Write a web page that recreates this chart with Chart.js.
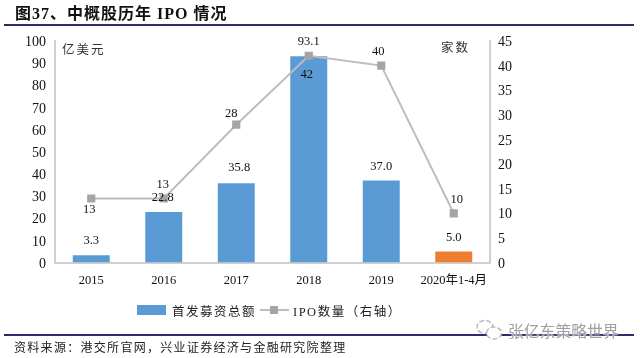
<!DOCTYPE html>
<html>
<head>
<meta charset="utf-8">
<script src="https://cdn.jsdelivr.net/npm/chart.js@4/dist/chart.umd.min.js"></script>
<style>
  html, body { margin: 0; padding: 0; background: #fff; }
  #wrap { position: relative; width: 640px; height: 358px; overflow: hidden;
          font-family: "Liberation Serif", "Noto Sans CJK SC", serif; color: #111; }
  #graph { position: absolute; left: 0; top: 0; }
  #wrap div { position: absolute; white-space: nowrap; }
  .rule { left: 4px; width: 630px; height: 2px; background: #2f2a68; }
  .unit { font-size: 12.5px; letter-spacing: 2px; color: #333; }
  .swatch { background: #5b9bd5; }
  .legend { font-size: 12.5px; letter-spacing: 1.5px; color: #222; }
</style>
</head>
<body>
<div id="wrap">
  <canvas id="graph" width="640" height="358"></canvas>
  <div style="left:15px;top:3px;font-size:16px;font-weight:bold;line-height:22px;letter-spacing:1px">图37、中概股历年 IPO 情况</div>
  <div class="rule" style="top:24px"></div>
  <div class="unit" style="left:62px;top:39px">亿美元</div>
  <div class="unit" style="left:441px;top:37px">家数</div>
  <div class="swatch" style="left:137px;top:305px;width:29px;height:10px"></div>
  <div class="legend" style="left:172px;top:301px">首发募资总额</div>
  <div style="left:260px;top:309px;width:29px;height:2px;background:#bdbdbd"></div>
  <div style="left:270px;top:306px;width:8px;height:8px;background:#a5a5a5"></div>
  <div class="legend" style="left:293px;top:301px">IPO数量（右轴）</div>
  <div class="rule" style="top:334px"></div>
  <div style="left:14px;top:338px;font-size:12px;letter-spacing:1.3px;color:#222">资料来源：港交所官网，兴业证券经济与金融研究院整理</div>
  <svg style="position:absolute;left:474px;top:317px" width="32" height="26">
    <ellipse cx="11" cy="10" rx="8" ry="6.5" fill="#fff" stroke="#bbb" stroke-width="1.5" stroke-dasharray="5 2"/>
    <ellipse cx="20" cy="16" rx="7.5" ry="6" fill="#fff" stroke="#bbb" stroke-width="1.5" stroke-dasharray="5 2"/>
  </svg>
  <div style="left:508px;top:319px;font-size:15.8px;color:#a0a0a0;text-shadow:0 0 2px #fff,0 0 2px #fff;font-family:'Noto Sans CJK SC'">张亿东策略世界</div>
</div>
<script>
var categories = ['2015', '2016', '2017', '2018', '2019', '2020年1-4月'];
var raised = [3.3, 22.8, 35.8, 93.1, 37.0, 5.0];
var ipoCount = [13, 13, 28, 42, 40, 10];
var barColors = ['#5b9bd5', '#5b9bd5', '#5b9bd5', '#5b9bd5', '#5b9bd5', '#ed7d31'];
var leftTicks = [0, 10, 20, 30, 40, 50, 60, 70, 80, 90, 100];
var rightTicks = [0, 5, 10, 15, 20, 25, 30, 35, 40, 45];

var serif = '"Liberation Serif", "Noto Sans CJK SC", serif';

// ラベルのずれ（マーカーからのピクセル数）
var barLabelDx = [0, -1, 3, 0, 0, 0];
var barLabelDy = [-14, -14, -15, -15, -14, -14];
var lineLabelDx = [-2, -1, -5, -2, -3, 3];
var lineLabelDy = [11, -14, -11, 19, -14, -14];

// 数値ラベル（データラベルのプラグインは使わない）
var valueLabels = {
  id: 'valueLabels',
  afterDatasetsDraw: function(chart) {
    var ctx = chart.ctx;
    ctx.save();
    ctx.font = '12.5px ' + serif;
    ctx.fillStyle = '#111';
    ctx.textAlign = 'center';
    ctx.textBaseline = 'middle';
    chart.getDatasetMeta(0).data.forEach(function(el, i) {
      ctx.fillText(raised[i].toFixed(1), el.x + barLabelDx[i], el.y + barLabelDy[i]);
    });
    chart.getDatasetMeta(1).data.forEach(function(el, i) {
      ctx.fillText(ipoCount[i], el.x + lineLabelDx[i], el.y + lineLabelDy[i]);
    });
    ctx.restore();
  }
};

function fixedWidth(w) {
  return function(scale) { scale.width = w; };
}

var config = {
  type: 'bar',
  data: {
    labels: categories,
    datasets: [
      {
        type: 'bar',
        label: '首发募资总额',
        data: raised,
        yAxisID: 'y',
        backgroundColor: barColors,
        categoryPercentage: 1,
        barPercentage: 0.51,
        order: 2
      },
      {
        type: 'line',
        label: 'IPO数量（右轴）',
        data: ipoCount,
        yAxisID: 'y1',
        borderColor: '#bdbdbd',
        borderWidth: 2,
        pointStyle: 'rect',
        pointRadius: 5.8,
        pointBackgroundColor: '#a5a5a5',
        pointBorderWidth: 0,
        tension: 0,
        order: 1
      }
    ]
  },
  options: {
    responsive: false,
    animation: false,
    layout: { padding: { top: 41, bottom: 65.5, left: 0, right: 0 } },
    plugins: { legend: { display: false }, tooltip: { enabled: false } },
    scales: {
      x: {
        grid: { display: false, drawTicks: false },
        border: { color: '#d0d0d0', width: 2 },
        ticks: { color: '#111', font: { size: 12.5, family: serif }, padding: 11, maxRotation: 0, autoSkip: false },
        afterFit: function(scale) { scale.height = 30; }
      },
      y: {
        position: 'left',
        min: 0,
        max: 100,
        afterBuildTicks: function(scale) { scale.ticks = leftTicks.map(function(v) { return { value: v }; }); },
        grid: { display: false, drawTicks: false },
        border: { color: '#d0d0d0', width: 2 },
        ticks: { color: '#111', font: { size: 14, family: serif }, padding: 9, labelOffset: 1.5 },
        afterFit: fixedWidth(55)
      },
      y1: {
        position: 'right',
        min: 0,
        max: 45,
        afterBuildTicks: function(scale) { scale.ticks = rightTicks.map(function(v) { return { value: v }; }); },
        grid: { display: false, drawTicks: false },
        border: { color: '#d0d0d0', width: 2 },
        ticks: { color: '#111', font: { size: 14, family: serif }, padding: 8, labelOffset: 1.5 },
        afterFit: fixedWidth(150)
      }
    }
  },
  plugins: [valueLabels]
};

window.onload = function() {
  new Chart(document.getElementById('graph').getContext('2d'), config);
};
</script>
</body>
</html>
